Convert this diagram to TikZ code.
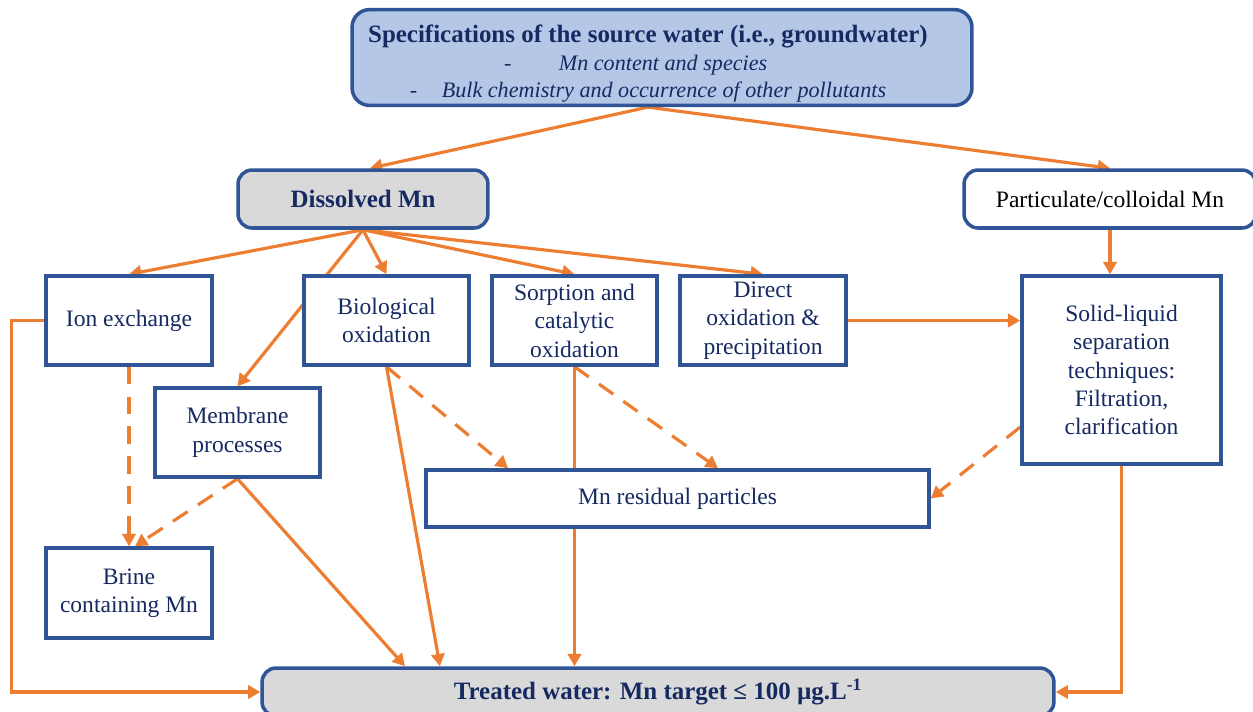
\documentclass[tikz,border=0pt]{standalone}
\usepackage{fontspec}
\setmainfont{Liberation Serif}
\usetikzlibrary{arrows.meta, calc, backgrounds}
\definecolor{floworange}{RGB}{237,125,49}
\definecolor{boxblue}{RGB}{47,85,151}
\definecolor{specfill}{RGB}{180,199,231}
\definecolor{greyfill}{RGB}{217,217,217}
\definecolor{navytext}{RGB}{22,42,98}
\tikzset{
    procbox/.style={draw=boxblue, line width=2pt, fill=white, text=navytext, align=center,
        inner sep=2pt, font=\fontsize{13.4}{16.2}\selectfont},
    roundbox/.style={procbox, rounded corners=8pt},
    boldbox/.style={roundbox, fill=greyfill, font=\fontsize{14.2}{16.2}\selectfont\bfseries},
    flow/.style={draw=floworange, line width=1.8pt, -{Triangle[length=7pt,width=7.5pt]}},
    sideflow/.style={flow, dash pattern=on 10pt off 7pt}
}

\begin{document}
\begin{tikzpicture}[x=0.02cm, y=-0.02cm]
        \useasboundingbox (0,0) rectangle (1253,711);

        % source water and the two Mn forms
        \node[roundbox, fill=specfill, rounded corners=10pt, minimum width=12.4cm, minimum height=1.9cm,
              font=\fontsize{12.6}{15.4}\selectfont] (spec) at (662,57.5)
            {\hbox{\fontsize{14.2}{15.4}\selectfont\bfseries\rule{0pt}{17pt}Specifications of the source water (i.e., groundwater)\kern16pt}\\
             \hbox{\itshape -\kern27pt Mn content and species\kern30pt}\\
             \hbox{\itshape -\kern14pt Bulk chemistry and occurrence of other pollutants\kern16pt}};
        \node[boldbox, minimum width=5cm, minimum height=1.16cm] (dis) at (363,199) {Dissolved Mn};
        \node[roundbox, text=black, minimum width=5.84cm, minimum height=1.16cm] (part) at (1110,199) {Particulate/colloidal Mn};

        % treatment options
        \node[procbox, minimum width=3.32cm, minimum height=1.78cm] (ion) at (129,320.5) {Ion exchange};
        \node[procbox, minimum width=3.3cm, minimum height=1.78cm] (bio) at (386.5,320.5) {Biological\\oxidation};
        \node[procbox, minimum width=3.3cm, minimum height=1.78cm] (sorp) at (574.5,320.5) {Sorption and\\catalytic\\oxidation};
        \node[procbox, minimum width=3.32cm, minimum height=1.78cm] (dir) at (763,320.5) {Direct\\oxidation \&\\precipitation};
        \node[procbox, minimum width=3.98cm, minimum height=3.76cm] (sol) at (1121.5,370)
            {Solid-liquid\\separation\\techniques:\\Filtration,\\clarification};
        \node[procbox, minimum width=3.3cm, minimum height=1.78cm] (mem) at (237.5,432.5) {Membrane\\processes};

        % residues and outlet
        \node[procbox, minimum width=10.06cm, minimum height=1.14cm] (resid) at (677.5,498.5) {Mn residual particles};
        \node[procbox, minimum width=3.32cm, minimum height=1.8cm] (brine) at (129,593) {Brine\\containing Mn};
        \node[boldbox, minimum width=15.84cm, minimum height=0.96cm] (treat) at (658,692)
            {Treated water: Mn target ≤ 100 µg.L\textsuperscript{-1}};

        \begin{scope}[on background layer]
            \coordinate (src) at ($(spec.south)+(-14,0)$);
            \draw[flow] (src) -- ($(dis.north)+(7,0)$);
            \draw[flow] (src) -- (part.north);
            \foreach \t in {ion, bio, mem, sorp, dir}
                \draw[flow] (dis.south) -- (\t.north);
            \draw[flow] (part.south) -- (part.south |- sol.north);
            \draw[flow] (dir.east) -- (dir.east -| sol.west);
            \draw[flow] (ion.west) -- ($(ion.west)+(-33,0)$) |- (treat.west);
            \draw[flow] (sol.south) |- (treat.east);
            % to treated water
            \draw[flow] (mem.south) -- ($(treat.north)+(-253,0)$);
            \draw[flow] (bio.south) -- ($(treat.north)+(-218,0)$);
            \draw[flow] (sorp.south) -- (sorp.south |- treat.north);
            % side streams
            \draw[sideflow] (ion.south) -- (ion.south |- brine.north);
            \draw[sideflow] (mem.south) -- ($(brine.north)+(6,0)$);
            \draw[sideflow] (bio.south) -- ($(resid.north)+(-169.5,0)$);
            \draw[sideflow] (sorp.south) -- ($(resid.north)+(40.5,0)$);
            \draw[sideflow] ($(sol.west)+(0,57)$) -- (resid.east);
        \end{scope}
    \end{tikzpicture}
\end{document}
